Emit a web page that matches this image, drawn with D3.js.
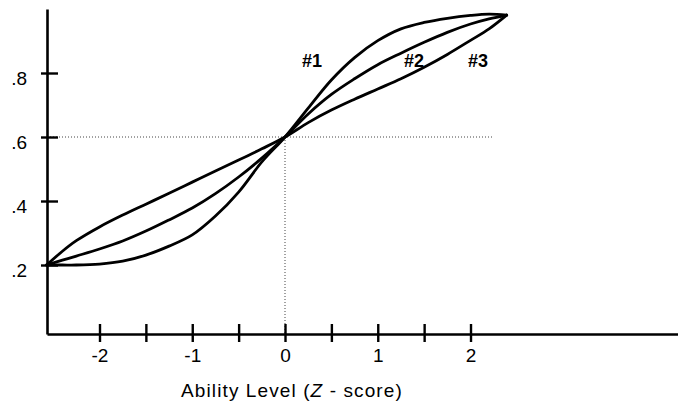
<!DOCTYPE html>
<html>
<head>
<meta charset="utf-8">
<script src="https://cdn.jsdelivr.net/npm/d3@7"></script>
<style>
  html, body { margin: 0; padding: 0; background: #fff; }
  svg { display: block; font-family: "Liberation Sans", Arial, Helvetica, sans-serif; }
</style>
</head>
<body>
<svg id="chart" width="678" height="404"></svg>
<script>
// Ability levels (z-scores) at which the three item characteristic curves are sampled
const abilityZ = [-2.57, -2.4, -2.25, -2, -1.75, -1.5, -1.25, -1, -0.75, -0.5, -0.25, 0,
                  0.25, 0.5, 0.75, 1, 1.25, 1.5, 1.75, 2, 2.2, 2.39];

// Probability of a correct response for each item
const item1 = [0.200, 0.200, 0.200, 0.203, 0.212, 0.231, 0.259, 0.294, 0.353, 0.428, 0.522, 0.600,
               0.690, 0.778, 0.848, 0.901, 0.938, 0.958, 0.971, 0.980, 0.984, 0.981];
const item2 = [0.200, 0.215, 0.228, 0.250, 0.275, 0.306, 0.341, 0.378, 0.423, 0.475, 0.534, 0.600,
               0.672, 0.733, 0.782, 0.826, 0.862, 0.896, 0.927, 0.953, 0.969, 0.981];
const item3 = [0.200, 0.243, 0.276, 0.319, 0.356, 0.390, 0.424, 0.459, 0.494, 0.528, 0.563, 0.600,
               0.645, 0.684, 0.718, 0.750, 0.782, 0.818, 0.858, 0.902, 0.938, 0.981];

const curveNames = ["#1", "#2", "#3"];
const curveLabelZ = [0.29, 1.39, 2.08];
const curveLabelP = [0.82, 0.82, 0.82];

const xTicks = [-2, -1.5, -1, -0.5, 0, 0.5, 1, 1.5, 2];
const yTicks = [0.2, 0.4, 0.6, 0.8];
const refZ = 0, refP = 0.6, refLineEndZ = 2.24;

const svg = d3.select("#chart");

const x = d3.scaleLinear().domain([-2.566, 4.237]).range([47, 678]);
const y = d3.scaleLinear().domain([-0.0156, 1.0]).range([334, 9]);

// Dotted reference lines through the common crossing point
svg.append("line")
  .attr("x1", x.range()[0]).attr("x2", x(refLineEndZ))
  .attr("y1", y(refP)).attr("y2", y(refP))
  .attr("stroke", "#444").attr("stroke-width", 1).attr("stroke-dasharray", "1,2");
svg.append("line")
  .attr("x1", x(refZ)).attr("x2", x(refZ))
  .attr("y1", y(refP)).attr("y2", y.range()[0])
  .attr("stroke", "#444").attr("stroke-width", 1).attr("stroke-dasharray", "1,2");

// Axes
const xAxis = svg.append("g")
  .attr("transform", `translate(0,${y.range()[0]})`)
  .call(d3.axisBottom(x).tickValues(xTicks)
    .tickFormat(d => Number.isInteger(d) ? String(d) : "")
    .tickSizeOuter(0));
xAxis.select(".domain").attr("stroke", "#000").attr("stroke-width", 2.6);
xAxis.selectAll(".tick line").attr("y1", -10).attr("y2", 8)
  .attr("stroke", "#000").attr("stroke-width", 2.4);
xAxis.selectAll(".tick text").attr("y", 28).attr("dy", 0)
  .attr("font-size", 19).attr("fill", "#000")
  .attr("font-family", "'Liberation Sans', Arial, sans-serif");

const yAxis = svg.append("g")
  .attr("transform", `translate(${x.range()[0]},0)`)
  .call(d3.axisLeft(y).tickValues(yTicks)
    .tickFormat(d => String(d).replace("0.", "."))
    .tickSizeOuter(0));
yAxis.select(".domain").attr("stroke", "#000").attr("stroke-width", 2.6);
yAxis.selectAll(".tick line").attr("x1", -6).attr("x2", 11)
  .attr("stroke", "#000").attr("stroke-width", 2.4);
yAxis.selectAll(".tick text").attr("x", -20).attr("dy", 11)
  .attr("font-size", 19).attr("fill", "#000")
  .attr("font-family", "'Liberation Sans', Arial, sans-serif");

// Item characteristic curves
const line = d3.line()
  .x((d, i) => x(abilityZ[i]))
  .y(d => y(d))
  .curve(d3.curveCatmullRom.alpha(0.5));

[item1, item2, item3].forEach(series => {
  svg.append("path")
    .datum(series)
    .attr("d", line)
    .attr("fill", "none")
    .attr("stroke", "#000")
    .attr("stroke-width", 2.8)
    .attr("stroke-linejoin", "round")
    .attr("stroke-linecap", "round");
});

// Curve labels
svg.selectAll("text.curve-label")
  .data(curveNames)
  .join("text")
  .attr("class", "curve-label")
  .attr("x", (d, i) => x(curveLabelZ[i]))
  .attr("y", (d, i) => y(curveLabelP[i]))
  .attr("text-anchor", "middle")
  .attr("font-size", 18)
  .attr("font-weight", "bold")
  .attr("fill", "#000")
  .text(d => d);

// Axis title
const title = svg.append("text")
  .attr("x", 292).attr("y", 397)
  .attr("text-anchor", "middle")
  .attr("font-size", 19)
  .attr("letter-spacing", 1.1)
  .attr("fill", "#000");
title.append("tspan").text("Ability Level (");
title.append("tspan").attr("font-style", "italic").text("Z");
title.append("tspan").text(" - score)");
</script>
</body>
</html>
